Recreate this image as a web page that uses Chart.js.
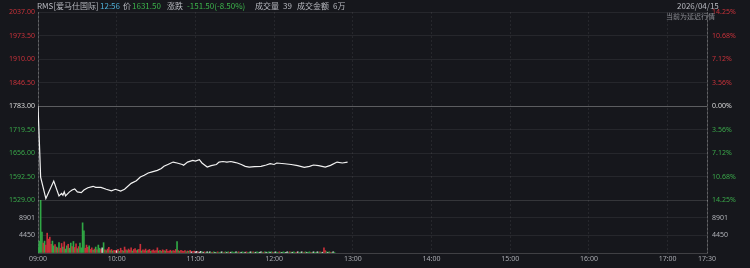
<!DOCTYPE html>
<html>
<head>
<meta charset="utf-8">
<script src="https://cdn.jsdelivr.net/npm/chart.js@4"></script>
<style>
  body { margin: 0; background: #16171c; }
  #wrap { position: relative; width: 750px; height: 268px; background: #16171c; overflow: hidden;
          font-family: "Noto Sans CJK SC", "Noto Sans", sans-serif; }
  #wrap canvas { position: absolute; left: 0; top: 0; }
  .t { position: absolute; white-space: nowrap; font-size: 8px; line-height: 10px; color: #b8bac0; }
</style>
</head>
<body>
<div id="wrap">
  <canvas id="volChart" width="750" height="268"></canvas>
  <canvas id="priceChart" width="750" height="268"></canvas>
  <span class="t" style="left:37px;top:1px;">RMS[爱马仕国际]</span>
  <span class="t" style="left:100px;top:1px;color:#4fb0d8;">12:56</span>
  <span class="t" style="left:123px;top:1px;">价</span>
  <span class="t" style="left:132px;top:1px;color:#3cb44b;">1631.50</span>
  <span class="t" style="left:167px;top:1px;">涨跌</span>
  <span class="t" style="left:187px;top:1px;color:#3cb44b;">-151.50(-8.50%)</span>
  <span class="t" style="left:255px;top:1px;">成交量</span>
  <span class="t" style="left:283px;top:1px;">39</span>
  <span class="t" style="left:297px;top:1px;">成交金额</span>
  <span class="t" style="left:333px;top:1px;">6万</span>
  <span class="t" style="left:677px;top:1px;">2026/04/15</span>
  <span class="t" style="left:666px;top:11px;font-size:7px;color:#8a8c92;">当前为延迟行情</span>
</div>
<script>
// 昨收
const prevClose = 1783;

// 分时价格 (时间, 价格)
const priceTimes = ['09:00','09:01','09:02','09:06','09:12','09:16','09:18','09:19','09:20','09:21',
  '09:24','09:26','09:28','09:30','09:33','09:35','09:38','09:42','09:44','09:48',
  '09:52','09:56','09:59','10:03','10:06','10:11','10:15','10:18','10:21','10:24',
  '10:27','10:31','10:34','10:36','10:39','10:43','10:46','10:50','10:51','10:54',
  '10:58','11:00','11:03','11:05','11:09','11:12','11:16','11:18','11:21','11:24',
  '11:27','11:29','11:32','11:35','11:38','11:41','11:45','11:50','11:54','11:57',
  '12:00','12:02','12:08','12:13','12:18','12:23','12:27','12:30','12:34','12:39',
  '12:43','12:48','12:52','12:56'];
const priceValues = [1783, 1689, 1591, 1533, 1580, 1540, 1547, 1542, 1551, 1540,
  1551, 1556, 1559, 1551, 1549, 1556, 1562, 1566, 1563, 1563,
  1558, 1554, 1558, 1553, 1558, 1574, 1581, 1591, 1596, 1602,
  1605, 1609, 1614, 1620, 1625, 1631.5, 1629, 1625, 1623, 1631.5,
  1636, 1634, 1638, 1629, 1618, 1622, 1625, 1631.5, 1633, 1631.5,
  1633, 1631.5, 1629, 1625, 1620, 1618, 1619, 1620, 1623.5, 1627,
  1625, 1629, 1627, 1625, 1622, 1617, 1620, 1623.5, 1622, 1618,
  1622.5, 1631.5, 1629, 1631.5];

// 每分钟成交量 (从 09:00 起)
const volValues = [
  1500,3000,14000,5300,2500,3000,2000,5000,3500,4000,
  2200,3000,1800,2100,1500,1300,2600,1200,2400,1500,
  2800,1000,1800,2200,1200,2500,1600,2900,1400,2300,
  1100,1600,2500,1300,7600,5600,1200,2000,1400,1800,
  900,1300,700,1000,1500,800,2000,1200,900,1300,
  2600,800,600,1000,1400,600,900,500,700,600,
  600,900,400,1200,700,500,1500,800,600,1000,
  700,1300,500,900,1100,600,800,900,2200,500,
  800,600,1000,500,700,900,400,600,800,500,
  600,1300,500,700,400,800,600,500,900,400,
  500,700,400,600,500,900,2900,600,400,700,
  500,400,600,300,500,400,700,300,400,500,
  300,400,300,200,400,300,200,300,200,300,
  200,300,200,200,300,200,200,300,200,200,
  300,200,200,300,200,300,200,200,300,200,
  200,300,200,300,200,200,300,200,200,300,
  200,200,300,200,300,200,200,300,200,200,
  300,200,200,300,200,200,300,200,300,200,
  200,300,200,200,300,200,200,300,200,200,
  300,200,300,200,200,300,200,200,300,200,
  200,300,200,200,300,200,200,300,200,200,
  300,200,200,300,200,300,200,200,1300,600,
  300,200,300,200,200,300,200,
];
const volColors = [
  'g','g','g','g','r','g','r','r','r','r',
  'r','g','g','r','g','r','g','r','r','g',
  'r','g','g','r','g','g','r','g','r','r',
  'g','r','g','g','g','g','r','r','r','g',
  'r','r','g','r','g','r','g','g','r','w',
  'g','r','g','r','r','g','r','g','r','r',
  'w','r','g','r','r','g','r','r','g','r',
  'r','r','g','r','r','r','g','r','r','g',
  'r','r','r','g','r','r','g','r','r','r',
  'r','r','g','r','g','r','r','g','r','r',
  'r','r','g','r','r','r','g','r','g','r',
  'r','r','r','g','r','g','r','w','r','r',
  'w','w','r','w','w','g','w','r','g','w',
  'g','w','g','r','g','w','g','r','g','g',
  'w','g','r','g','w','g','r','w','g','g',
  'g','w','g','r','g','w','g','g','w','r',
  'g','g','w','g','r','g','w','g','g','w',
  'w','g','r','g','w','g','g','w','g','r',
  'g','w','g','g','r','g','w','g','g','w',
  'w','g','r','g','w','g','g','r','w','g',
  'g','w','g','r','g','w','g','g','r','g',
  'w','g','g','w','g','r','g','w','r','r',
  'g','w','g','r','g','w','g',
];

// 坐标刻度
const priceTicks = [1529, 1592.5, 1656, 1719.5, 1783, 1846.5, 1910, 1973.5, 2037];
const volTicks = [0, 4450, 8901, 13351];
const timeLabels = ['09:00','10:00','11:00','12:00','13:00','14:00','15:00','16:00','17:00','17:30'];

const RED = '#c8303a', GREEN = '#30a845', WHITE = '#dcdcdc';
const colorMap = {r: RED, g: GREEN, w: WHITE};

function toMin(t) {
  let [h, m] = t.split(':').map(Number);
  return (h - 9) * 60 + m;
}
const timeTicks = timeLabels.map(toMin);
const labelOfMin = {};
timeLabels.forEach((t, i) => labelOfMin[timeTicks[i]] = t);

function priceColor(v) {
  if (Math.abs(v - prevClose) < 0.01) return '#d8d8d8';
  return v > prevClose ? '#c8323a' : '#3aa84a';
}

const tickFont = {family: "'Noto Sans', sans-serif", size: 7};
const gridColor = 'rgba(255,255,255,0.07)';

function fixWidth(w) { return function(scale) { scale.width = w; }; }
function fixHeight(h) { return function(scale) { scale.height = h; }; }

let xScale = function(showLabels, h) {
  return {
    type: 'linear', min: 0, max: 510, offset: false,
    afterBuildTicks: s => { s.ticks = timeTicks.map(v => ({value: v})); },
    afterFit: fixHeight(h),
    grid: {offset: false, drawTicks: false,
           color: c => (c.tick && (c.tick.value === 0 || c.tick.value === 510)) ? 'rgba(255,255,255,0.18)' : gridColor},
    border: {display: false, dash: [2, 2]},
    ticks: {display: showLabels, color: '#a8aab0', font: tickFont, padding: 2, maxRotation: 0,
            callback: v => labelOfMin[v] || ''}
  };
};

new Chart(document.getElementById('priceChart').getContext('2d'), {
  type: 'line',
  data: {
    datasets: [{
      data: priceTimes.map((t, i) => ({x: toMin(t), y: priceValues[i]})),
      borderColor: '#f2f2f2',
      borderWidth: 1.2,
      pointRadius: 0,
      tension: 0,
      yAxisID: 'y'
    }]
  },
  options: {
    responsive: false,
    animation: false,
    layout: {padding: {top: 12, left: 0, right: 0, bottom: 0}},
    plugins: {legend: {display: false}, tooltip: {enabled: false}},
    scales: {
      x: xScale(false, 68),
      y: {
        position: 'left', min: 1529, max: 2037,
        afterBuildTicks: s => { s.ticks = priceTicks.map(v => ({value: v})); },
        afterFit: fixWidth(38),
        grid: {color: c => c.tick && c.tick.value === prevClose ? 'rgba(255,255,255,0.3)' : gridColor, drawTicks: false},
        border: {color: 'rgba(255,255,255,0.18)'},
        ticks: {font: tickFont, padding: 3, color: c => priceColor(c.tick.value),
                callback: v => v.toFixed(2)}
      },
      y2: {
        position: 'right', min: 1529, max: 2037,
        afterBuildTicks: s => { s.ticks = priceTicks.map(v => ({value: v})); },
        afterFit: fixWidth(43),
        grid: {display: false, drawTicks: false},
        border: {color: 'rgba(255,255,255,0.18)'},
        ticks: {font: tickFont, padding: 5, color: c => priceColor(c.tick.value),
                callback: v => (Math.abs(v - prevClose) / prevClose * 100).toFixed(2) + '%'}
      }
    }
  }
});

new Chart(document.getElementById('volChart').getContext('2d'), {
  type: 'bar',
  data: {
    datasets: [{
      data: volValues.map((v, i) => ({x: i, y: v})),
      backgroundColor: volColors.map(c => colorMap[c]),
      barThickness: 1,
      yAxisID: 'y'
    }]
  },
  options: {
    responsive: false,
    animation: false,
    layout: {padding: {top: 200, left: 0, right: 0, bottom: 0}},
    plugins: {legend: {display: false}, tooltip: {enabled: false}},
    scales: {
      x: xScale(true, 15),
      y: {
        position: 'left', min: 0, max: 13351,
        afterBuildTicks: s => { s.ticks = volTicks.map(v => ({value: v})); },
        afterFit: fixWidth(38),
        grid: {color: c => c.tick && c.tick.value === 0 ? 'rgba(255,255,255,0.18)' : gridColor, drawTicks: false},
        border: {color: 'rgba(255,255,255,0.18)'},
        ticks: {font: tickFont, padding: 3, color: '#b0b2b8',
                callback: v => (v === 4450 || v === 8901) ? String(v) : ''}
      },
      y2: {
        position: 'right', min: 0, max: 13351,
        afterBuildTicks: s => { s.ticks = volTicks.map(v => ({value: v})); },
        afterFit: fixWidth(43),
        grid: {display: false, drawTicks: false},
        border: {color: 'rgba(255,255,255,0.18)'},
        ticks: {font: tickFont, padding: 5, color: '#b0b2b8',
                callback: v => (v === 4450 || v === 8901) ? String(v) : ''}
      }
    }
  }
});
</script>
</body>
</html>
